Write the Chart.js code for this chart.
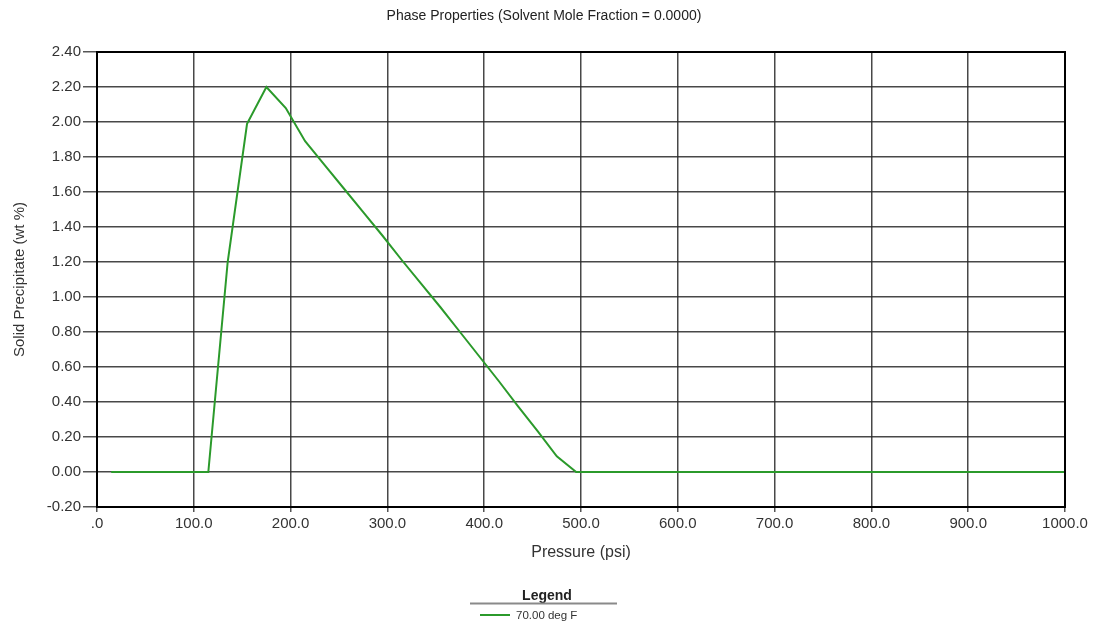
<!DOCTYPE html>
<html>
<head>
<meta charset="utf-8">
<script src="https://cdn.jsdelivr.net/npm/chart.js@4.4.0/dist/chart.umd.min.js"></script>
<style>
  html, body { margin: 0; padding: 0; background: #fff; }
  #wrap { width: 1098px; height: 623px; position: relative; }
</style>
</head>
<body>
<div id="wrap"><canvas id="c" width="1098" height="623"></canvas></div>
<script>
// ---- data ----
const chartTitle = 'Phase Properties (Solvent Mole Fraction = 0.0000)';
const xAxisTitle = 'Pressure (psi)';
const yAxisTitle = 'Solid Precipitate (wt %)';
const seriesName = '70.00 deg F';
const pressure = [14.7, 115, 135, 155, 175, 195, 215, 235, 255, 275, 295, 315, 335, 355, 375, 395, 415, 435, 455, 475, 495, 1000];
const solidPrecipitate = [0, 0, 1.20, 1.99, 2.20, 2.08, 1.89, 1.755, 1.62, 1.485, 1.35, 1.21, 1.075, 0.94, 0.80, 0.66, 0.52, 0.375, 0.235, 0.09, 0, 0];
const xTicks = [0, 100, 200, 300, 400, 500, 600, 700, 800, 900, 1000];
const yTicks = [-0.2, 0, 0.2, 0.4, 0.6, 0.8, 1.0, 1.2, 1.4, 1.6, 1.8, 2.0, 2.2, 2.4];

const FONT = "'Liberation Sans', Arial, sans-serif";
const LINE_COLOR = '#2b9a2b';
const GRID = 'rgba(40,40,40,0.85)';

const points = pressure.map((p, i) => ({ x: p, y: solidPrecipitate[i] }));

const decor = {
  id: 'decor',
  afterDraw(chart) {
    const ctx = chart.ctx;
    const a = chart.chartArea;
    ctx.save();
    // frame
    ctx.strokeStyle = '#000';
    ctx.lineWidth = 2;
    ctx.strokeRect(a.left, a.top, a.right - a.left, a.bottom - a.top);
    // title
    ctx.fillStyle = '#222';
    ctx.font = '14px ' + FONT;
    ctx.textAlign = 'center';
    ctx.textBaseline = 'middle';
    ctx.fillText(chartTitle, 544, 16);
    // legend
    ctx.font = 'bold 14px ' + FONT;
    ctx.fillStyle = '#222';
    ctx.fillText('Legend', 547, 596);
    ctx.strokeStyle = '#8a8a8a';
    ctx.lineWidth = 2;
    ctx.beginPath(); ctx.moveTo(470, 603.5); ctx.lineTo(617, 603.5); ctx.stroke();
    ctx.strokeStyle = LINE_COLOR;
    ctx.lineWidth = 2;
    ctx.beginPath(); ctx.moveTo(480, 615); ctx.lineTo(510, 615); ctx.stroke();
    ctx.font = '11.5px ' + FONT;
    ctx.textAlign = 'left';
    ctx.fillStyle = '#333';
    ctx.fillText(seriesName, 516, 616);
    ctx.restore();
  }
};

new Chart(document.getElementById('c'), {
  type: 'line',
  data: {
    datasets: [{
      label: seriesName,
      data: points,
      borderColor: LINE_COLOR,
      borderWidth: 2,
      pointRadius: 0,
      tension: 0,
      fill: false
    }]
  },
  options: {
    responsive: false,
    animation: false,
    layout: { padding: { left: 0, top: 52, right: 33, bottom: 0 } },
    plugins: {
      legend: { display: false },
      title: { display: false },
      tooltip: { enabled: false }
    },
    scales: {
      x: {
        type: 'linear',
        min: 0, max: 1000,
        afterBuildTicks(scale) { scale.ticks = xTicks.map(v => ({ value: v })); },
        afterFit(scale) { scale.height = 116; },
        ticks: {
          padding: 3,
          color: '#333',
          maxRotation: 0,
          autoSkip: false,
          font: { family: FONT, size: 15 },
          callback: v => v === 0 ? '.0' : Number(v).toFixed(1)
        },
        grid: { color: GRID, lineWidth: 1.5, tickLength: 5, tickColor: '#555' },
        border: { color: '#000', width: 2 },
        title: {
          display: true, text: xAxisTitle, color: '#333',
          font: { family: FONT, size: 16 },
          padding: { top: 0, bottom: 61 }
        }
      },
      y: {
        type: 'linear',
        min: -0.2, max: 2.4,
        afterBuildTicks(scale) { scale.ticks = yTicks.map(v => ({ value: v })); },
        afterFit(scale) { scale.width = 97; },
        ticks: {
          padding: 2,
          color: '#333',
          autoSkip: false,
          font: { family: FONT, size: 15 },
          callback: v => Number(v).toFixed(2)
        },
        grid: { color: GRID, lineWidth: 1.5, tickLength: 14, tickColor: '#555' },
        border: { color: '#000', width: 2 },
        title: {
          display: true, text: yAxisTitle, color: '#333',
          font: { family: FONT, size: 15 },
          padding: { top: 11, bottom: 0 }
        }
      }
    }
  },
  plugins: [decor]
});
</script>
</body>
</html>
